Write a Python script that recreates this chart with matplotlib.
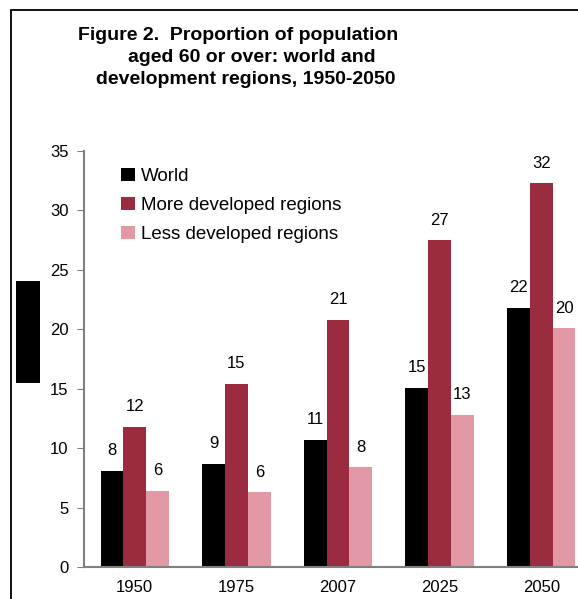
import matplotlib.pyplot as plt
import matplotlib.patches as mpatches
import numpy as np

plt.rcParams['font.family'] = ['Liberation Sans', 'DejaVu Sans']

years = ["1950", "1975", "2007", "2025", "2050"]
world = [8.1, 8.7, 10.7, 15.1, 21.8]
more_dev = [11.8, 15.4, 20.8, 27.5, 32.3]
less_dev = [6.4, 6.3, 8.4, 12.8, 20.1]
world_lbl = ["8", "9", "11", "15", "22"]
more_lbl = ["12", "15", "21", "27", "32"]
less_lbl = ["6", "6", "8", "13", "20"]

c_world = "#000000"
c_more = "#9B2C3F"
c_less = "#E299A5"

W, H = 578, 599
fig = plt.figure(figsize=(W / 100, H / 100), dpi=100)

# outer frame (runs off the right and bottom edges)
fig.patches.append(mpatches.Rectangle((11 / W, -0.1), 1.2, 1 - 10 / H + 0.1,
                                      transform=fig.transFigure, fill=False,
                                      edgecolor="black", linewidth=1.3))
# stray black box at left
fig.patches.append(mpatches.Rectangle((16 / W, 1 - 383 / H), 24 / W, 102 / H,
                                      transform=fig.transFigure,
                                      facecolor="black", edgecolor="none"))

ax = fig.add_axes([84 / W, 32 / H, 508 / W, 416 / H])
x = np.arange(len(years))
bw = 0.225
series = [(world, world_lbl, c_world, "World", -bw),
          (more_dev, more_lbl, c_more, "More developed regions", 0),
          (less_dev, less_lbl, c_less, "Less developed regions", bw)]
handles = []
for vals, lbls, col, name, off in series:
    b = ax.bar(x + off, vals, width=bw, color=col, label=name, clip_on=False)
    handles.append(b)
    for xi, v, t in zip(x + off, vals, lbls):
        ax.annotate(t, (xi, v), xytext=(0, 20), textcoords="offset pixels",
                    ha="center", va="center", fontsize=12, annotation_clip=False)

ax.set_xlim(-0.5, 4.5)
ax.set_ylim(0, 35)
ax.set_yticks(range(0, 36, 5))
ax.set_xticks(x)
ax.set_xticklabels(years, fontsize=12)
ax.tick_params(axis="x", length=0, pad=9)
ax.tick_params(axis="y", length=5, direction="out", color="#808080",
               labelsize=12, pad=6)
for s in ["top", "right"]:
    ax.spines[s].set_visible(False)
for s in ["left", "bottom"]:
    ax.spines[s].set_color("#808080")
    ax.spines[s].set_linewidth(1.5)

ax.legend(handles=handles, loc="upper left", bbox_to_anchor=(29 / 508, 1 - 9 / 416),
          frameon=False, fontsize=13.5, handlelength=0.75, handleheight=0.75,
          handletextpad=0.35, labelspacing=0.62, borderaxespad=0)

title_lines = [("Figure 2.  Proportion of population", 238, 35),
               ("aged 60 or over: world and", 252, 58),
               ("development regions, 1950-2050", 246, 80)]
for t, px, py in title_lines:
    fig.text(px / W, 1 - py / H, t, ha="center", va="center",
             fontsize=14, fontweight="bold")

fig.savefig("out.png", dpi=100)
